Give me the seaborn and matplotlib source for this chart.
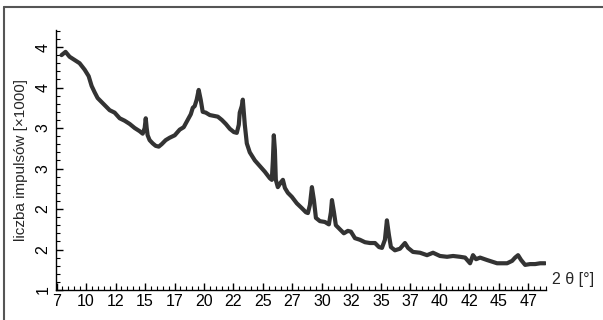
import numpy as np
import pandas as pd
import matplotlib
matplotlib.use("Agg")
import matplotlib.pyplot as plt
from matplotlib.lines import Line2D
from matplotlib.ticker import MultipleLocator, FixedLocator, FixedFormatter
import seaborn as sns

# 2-theta angle [deg]
twotheta = [7.92, 8.26, 8.60, 9.03, 9.45, 9.88, 10.22, 10.47, 10.73, 10.98, 11.32, 11.66,
            12.00, 12.42, 12.85, 13.27, 13.70, 14.12, 14.55, 14.80, 14.97, 15.06, 15.14,
            15.22, 15.39, 15.65, 15.90, 16.16, 16.41, 16.75, 17.09, 17.52, 17.94, 18.28,
            18.62, 18.88, 19.05, 19.21, 19.38, 19.55, 19.72, 19.89, 20.15, 20.49, 20.83,
            21.17, 21.51, 21.85, 22.19, 22.53, 22.78, 22.95, 23.03, 23.20, 23.29, 23.46,
            23.63, 23.88, 24.31, 24.73, 25.16, 25.58, 25.75, 25.84, 25.92, 26.01, 26.09,
            26.26, 26.52, 26.69, 26.86, 27.11, 27.45, 27.87, 28.30, 28.64, 28.81, 28.98,
            29.15, 29.32, 29.49, 29.83, 30.25, 30.59, 30.76, 30.85, 31.02, 31.18, 31.52,
            31.86, 32.20, 32.46, 32.80, 33.22, 33.65, 34.07, 34.50, 34.84, 35.09, 35.34,
            35.51, 35.68, 35.85, 36.19, 36.62, 37.04, 37.30, 37.72, 38.32, 38.91, 39.42,
            40.01, 40.61, 41.12, 41.71, 42.14, 42.56, 42.81, 43.07, 43.41, 44.00, 44.43,
            44.85, 45.28, 45.70, 46.13, 46.38, 46.63, 46.89, 47.23, 47.65, 48.08, 48.50,
            48.93]
# counts [x1000]
counts = [3.90, 3.94, 3.88, 3.84, 3.80, 3.72, 3.64, 3.52, 3.44, 3.37, 3.32, 3.27,
          3.22, 3.19, 3.12, 3.09, 3.05, 3.00, 2.96, 2.93, 3.00, 3.12, 3.00,
          2.91, 2.85, 2.81, 2.78, 2.77, 2.80, 2.85, 2.88, 2.91, 2.98, 3.01,
          3.10, 3.17, 3.25, 3.27, 3.35, 3.47, 3.35, 3.20, 3.19, 3.16, 3.15,
          3.14, 3.10, 3.05, 2.99, 2.95, 2.94, 3.04, 3.19, 3.27, 3.35, 3.04,
          2.81, 2.70, 2.60, 2.53, 2.46, 2.38, 2.36, 2.60, 2.91, 2.73, 2.36,
          2.27, 2.33, 2.36, 2.26, 2.20, 2.15, 2.07, 2.01, 1.96, 1.95, 2.05,
          2.27, 2.11, 1.89, 1.85, 1.84, 1.81, 1.96, 2.11, 1.96, 1.80, 1.75,
          1.70, 1.73, 1.72, 1.64, 1.62, 1.59, 1.58, 1.58, 1.53, 1.52, 1.62,
          1.86, 1.68, 1.53, 1.49, 1.51, 1.58, 1.52, 1.47, 1.46, 1.43, 1.46,
          1.42, 1.41, 1.42, 1.41, 1.40, 1.33, 1.43, 1.38, 1.40, 1.37, 1.35,
          1.33, 1.33, 1.33, 1.36, 1.40, 1.43, 1.37, 1.31, 1.32, 1.32, 1.33,
          1.33]

x_ticks = [7.5, 10, 12.5, 15, 17.5, 20, 22.5, 25, 27.5, 30, 32.5, 35, 37.5, 40, 42.5, 45, 47.5]
x_tick_labels = ["7", "10", "12", "15", "17", "20", "22", "25", "27", "30", "32", "35",
                 "37", "40", "42", "45", "47"]
y_ticks = [1.0, 1.5, 2.0, 2.5, 3.0, 3.5, 4.0]
y_tick_labels = ["1", "2", "2", "3", "3", "4", "4"]

assert len(twotheta) == len(counts)
df = pd.DataFrame({"twotheta": twotheta, "counts": counts})

sns.set_style("ticks")
plt.rcParams["font.family"] = ["Liberation Sans Narrow", "Liberation Sans", "DejaVu Sans"]

fig = plt.figure(figsize=(6.03, 3.2), dpi=100)
ax = fig.add_axes([56 / 603, 30 / 320, 490 / 603, 260 / 320])

sns.lineplot(data=df, x="twotheta", y="counts", ax=ax, color="#333333",
             linewidth=3.0, estimator=None, sort=False)

ax.set_xlim(7.45, 49.0)
ax.set_ylim(1.0, 4.21)

ax.xaxis.set_major_locator(FixedLocator(x_ticks))
ax.xaxis.set_major_formatter(FixedFormatter(x_tick_labels))
ax.xaxis.set_minor_locator(MultipleLocator(0.5))
ax.yaxis.set_major_locator(FixedLocator(y_ticks))
ax.yaxis.set_major_formatter(FixedFormatter(y_tick_labels))
ax.yaxis.set_minor_locator(MultipleLocator(0.1))

ax.tick_params(axis="both", which="major", direction="in", length=5, width=1,
               color="black", labelsize=11.5, labelcolor="black")
ax.tick_params(axis="both", which="minor", direction="in", length=3, width=0.8, color="black")
ax.tick_params(axis="x", which="major", pad=3)
ax.tick_params(axis="y", which="major", pad=4)
for lab in ax.get_yticklabels():
    lab.set_rotation(90)
    lab.set_va("center")

ax.set_xlabel("")
ax.set_ylabel("liczba impulsów [×1000]", fontsize=11, labelpad=5)
ax.text(1.012, 0.04, "2 θ [°]", transform=ax.transAxes, ha="left", va="center", fontsize=11.5)

for s in ["top", "right"]:
    ax.spines[s].set_visible(False)
for s in ["left", "bottom"]:
    ax.spines[s].set_linewidth(1.0)
    ax.spines[s].set_color("black")

# outer frame (top and left edges)
fig.add_artist(Line2D([4 / 603, 1.0], [1 - 7 / 320, 1 - 7 / 320], transform=fig.transFigure,
                      color="#555555", linewidth=1.5))
fig.add_artist(Line2D([4 / 603, 4 / 603], [0.0, 1 - 7 / 320], transform=fig.transFigure,
                      color="#555555", linewidth=1.5))

fig.savefig("out.png", dpi=100)
